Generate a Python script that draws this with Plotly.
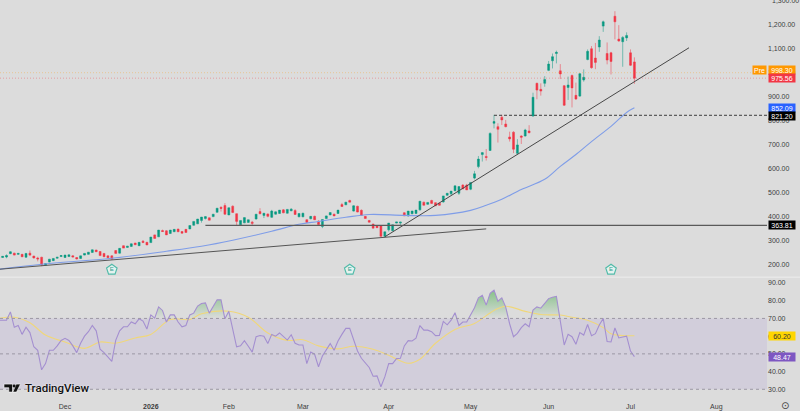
import pandas as pd
import plotly.graph_objects as go

W, H = 800, 411
PANE_RIGHT = 767

# Trading calendar of the symbol
holidays = ["2025-11-27", "2025-12-25", "2026-01-01", "2026-01-19", "2026-02-16",
            "2026-04-03", "2026-05-25", "2026-06-19", "2026-07-03"]
sessions = [d.strftime("%Y-%m-%d") for d in pd.bdate_range("2025-11-05", "2026-08-31")
            if d.strftime("%Y-%m-%d") not in holidays]

opens = [230,230,232,246,248,243,243,231,248,236,
         228,231,197,211,217,227,234,230,234,237,
         230,226,240,243,251,261,255,247,237,237,
         259,248,279,272,276,290,279,298,293,292,
         324,316,342,341,330,337,348,338,347,349,
         364,370,384,392,395,400,418,439,446,407,
         443,412,366,374,376,377,390,421,405,411,
         397,410,413,428,414,424,425,399,399,387,
         391,401,381,359,392,407,410,413,450,449,
         467,423,443,426,401,384,369,362,362,318,
         345,341,373,373,416,403,412,413,428,460,
         451,467,458,456,461,489,495,508,497,531,
         531,514,560,608,658,650,675,788,774,813,
         785,731,751,663,735,735,756,818,954,929,
         954,1008,1048,1078,1006,944,937,987,904,901,
         968,1053,1098,1059,1105,1192,1078,1081,1233,1138,
         1127,1143,1081,1043]
highs = [234,236,243,256,250,248,245,248,259,237,
         233,233,206,224,227,232,239,241,242,239,
         232,237,247,253,263,262,256,248,238,238,
         260,268,280,278,288,291,293,302,295,315,
         325,344,346,343,344,347,350,339,348,363,
         380,390,398,401,396,410,435,442,456,437,
         447,413,384,396,387,382,410,435,414,413,
         428,421,427,431,431,435,431,413,416,389,
         402,404,385,388,404,417,412,427,457,461,
         470,447,445,430,402,386,370,363,363,337,
         373,366,378,378,418,423,424,427,464,462,
         459,470,459,457,486,497,506,528,525,535,
         536,542,590,652,666,681,750,823,788,823,
         802,753,755,722,738,765,780,915,957,954,
         984,1047,1078,1090,1034,947,982,990,957,997,
         1012,1095,1109,1122,1150,1215,1124,1085,1254,1196,
         1150,1166,1095,1062]
lows = [228,228,227,244,239,241,232,230,236,226,
        214,194,195,210,216,226,233,229,233,231,
        222,225,239,242,250,253,238,233,229,223,
        247,247,269,271,275,283,278,292,282,291,
        309,315,338,324,329,336,337,331,334,348,
        363,369,375,388,385,398,417,421,408,406,
        416,365,362,373,375,365,388,410,394,397,
        395,409,412,414,413,423,408,398,398,376,
        389,386,365,352,391,406,402,412,441,448,
        460,421,418,404,392,376,352,353,317,316,
        338,340,372,365,403,400,410,412,425,447,
        450,454,445,446,458,486,490,505,490,515,
        511,510,555,601,629,633,674,767,708,781,
        771,712,664,657,702,733,746,815,888,903,
        940,1005,1016,1037,972,860,885,854,885,898,
        961,1050,1015,1013,1085,1168,1033,991,1137,1127,
        1023,1130,1026,952]
closes = [232,235,238,254,240,247,233,247,240,228,
          224,199,205,223,226,231,238,240,241,232,
          224,237,247,252,262,254,238,233,229,223,
          247,268,269,277,287,283,293,292,282,315,
          309,344,338,324,344,347,337,331,334,363,
          380,390,398,400,385,410,435,434,410,437,
          417,380,384,396,387,372,410,412,414,401,
          423,420,427,416,430,431,409,413,414,376,
          401,387,367,388,403,417,403,427,442,460,
          460,445,419,405,392,377,352,354,318,337,
          373,366,378,377,403,423,423,427,464,447,
          459,455,445,447,486,497,506,528,525,515,
          511,542,578,639,666,646,746,795,763,802,
          774,723,680,698,730,760,749,896,926,922,
          970,1034,1065,1083,993,863,947,935,889,994,
          979,1087,1019,1041,1134,1210,1051,1045,1210,1130,
          1145,1153,1029,975.56]

# Moving average of price, sampled at these session numbers
ma_sessions = [0,11,29,43,52,60,70,77,82,89,95,104,112,121,125,129,134,140,144,148,152,157,161,163]
ma_values = [181,202,227,256,277,302,339,368,380,397,409,405,405,426,447,472,513,555,609,658,712,775,833,852.09]

# Hand-drawn support lines: (session, price) anchors
support_long_sessions = [0, 125]
support_long_prices = [181, 349]
support_steep_sessions = [99, 177]
support_steep_prices = [316, 1102]

level_low = 363.81
level_low_start = 53
level_high = 821.20
level_high_start = 127
last_close = 975.56
pre_market = 998.30
ma_last = 852.09
earnings_sessions = [29, 90, 157]
earnings_y = 179

rsi = [69,69,69,73.7,65,66,61,65,62,54,
       52,41,44.5,52,52,54.5,57.6,58.8,57.6,54.5,
       50.7,56,60,62.5,66,63,52.6,50.7,48.3,45.8,
       57.6,63,65.3,65.3,68,67,69.8,68.5,64,72,
       70.2,76.5,74.5,68,72,72,68,65.3,66,72,
       73,77,78.4,78.8,73,76.4,80.5,80.5,69.8,74,
       64.8,54,54.6,57.5,54.3,51,59.7,60.4,60,55.8,
       61,60,61.8,59.5,57.8,60.8,56,55,55,44.5,
       51,49.8,42.7,48.8,52,55.8,52,57.3,61,64.4,
       64.4,58,51.6,47.5,45,42.3,37.4,37.6,31.4,37,
       44.5,44.5,47.3,47.5,54.5,57.5,57.3,58.8,66,63.4,
       63.4,62.5,60.3,60.4,68.3,66.4,69,73.2,66,68,
       68,71.7,76,81.6,83,77.5,84.2,86,79.7,81.6,
       76.4,67,59.7,61.6,64.8,67,65.3,74.7,76.5,75.8,
       78.8,81.2,82,82.5,68.5,55,61,59.7,55.4,62,
       60.6,66.6,60.3,61.4,66.3,70,57,56.7,64.6,59,
       59.5,60,51.6,48.47]

rsi_ma_sessions = [0,4,8,12,17,22,26,30,35,39,44,49,52,59,64,69,
                   74,78,82,87,91,96,100,105,108,112,117,122,127,130,135,
                   139,144,147,151,155,157,163]
rsi_ma_values = [70,70.7,67.6,60.6,56.7,53.1,56.7,56,59,61,69.4,69.4,72.6,74.1,70.7,61.8,
                 57.6,58,54.5,52.8,54.3,52.6,49.2,44.7,47,56,63.8,67.2,74.5,76.9,74,
                 72.2,71.9,70.7,69,64.8,61.4,60.2]

price_ticks = list(range(200, 1300, 100))
top_price_label = "1,300.00"
rsi_ticks = [30, 40, 50, 60, 70, 80, 90]
month_sessions = [17, 39, 59, 78, 100, 121, 141, 162, 184]
month_labels = ["Dec", "<b>2026</b>", "Feb", "Mar", "Apr", "May", "Jun", "Jul", "Aug"]

BG = "#DCDCDC"
UP = "#089981"
DOWN = "#F23645"
TEXT = "#3d3d3d"
FONT = "Liberation Sans"


def at(indices):
    return [sessions[i] for i in indices]


n = len(closes)
x_bars = sessions[:n]
fig = go.Figure()

fig.add_trace(go.Candlestick(
    x=x_bars, open=opens, high=highs, low=lows, close=closes, whiskerwidth=0,
    increasing=dict(fillcolor=UP, line=dict(color="rgba(8,153,129,0.5)", width=1)),
    decreasing=dict(fillcolor=DOWN, line=dict(color="rgba(242,54,69,0.5)", width=1)),
    xaxis="x", yaxis="y", hoverinfo="skip"))


def line(x, y, color, width=1.0, dash="solid", xa="x", ya="y", shape="linear"):
    fig.add_trace(go.Scatter(x=x, y=y, mode="lines", xaxis=xa, yaxis=ya, hoverinfo="skip",
                             line=dict(color=color, width=width, dash=dash, shape=shape)))


line(at(ma_sessions), ma_values, "#7F9DE8", 1.1, shape="spline")
line(at(support_long_sessions), support_long_prices, "#555555", 1.0)
line(at(support_steep_sessions), support_steep_prices, "#484848", 1.0)
line(at([level_low_start, 197]), [level_low, level_low], "#5a5a5a", 1.2)
line(at([level_high_start, 197]), [level_high, level_high], "#3c3c3c", 1.0, "3px,2px")

# Earnings badges under the price series
fig.add_trace(go.Scatter(
    x=at(earnings_sessions), y=[earnings_y] * len(earnings_sessions), mode="markers+text",
    text=["E"] * len(earnings_sessions), textposition="middle center",
    textfont=dict(family=FONT, size=6, color="#2f9f8c"),
    marker=dict(symbol="pentagon", size=11, color="#E4F2EF", line=dict(color="#52BBA9", width=1.2)),
    xaxis="x", yaxis="y", hoverinfo="skip"))

# RSI pane: band, overbought gradient, oscillator and its average
fig.add_trace(go.Scatter(x=x_bars, y=[70] * n, mode="lines", line=dict(width=0), xaxis="x2", yaxis="y2",
                         hoverinfo="skip"))
fig.add_trace(go.Scatter(
    x=x_bars, y=[max(v, 70) for v in rsi], mode="lines", line=dict(width=0), fill="tonexty",
    fillgradient=dict(type="vertical", start=70, stop=86,
                      colorscale=[[0, "rgba(76,175,80,0)"], [1, "rgba(76,175,80,0.6)"]]),
    xaxis="x2", yaxis="y2", hoverinfo="skip"))
line(at(rsi_ma_sessions), rsi_ma_values, "#F0D77A", 1.1, xa="x2", ya="y2", shape="spline")
line(x_bars, rsi, "#A48FD0", 1.1, xa="x2", ya="y2")

x_right = PANE_RIGHT / W
shapes = [
    dict(type="rect", xref="paper", yref="y2", x0=0, x1=x_right, y0=30, y1=70, layer="below",
         fillcolor="#D2CEDB", line=dict(width=0)),
    dict(type="line", xref="paper", yref="paper", x0=0, x1=1, y0=1 - 278.5 / H, y1=1 - 278.5 / H,
         line=dict(color="#EDEDED", width=1)),
]
for level in (30, 50, 70):
    shapes.append(dict(type="line", xref="paper", yref="y2", x0=0, x1=x_right, y0=level, y1=level,
                       line=dict(color="#9c98a4", width=1, dash="3px,3px")))
for value, color in ((pre_market, "rgba(255,152,0,0.32)"), (last_close, "rgba(242,54,69,0.38)")):
    shapes.append(dict(type="line", xref="paper", yref="y", x0=0, x1=x_right, y0=value, y1=value,
                       line=dict(color=color, width=1, dash="1px,2px")))


def logo_path(points):
    return "M" + " L".join(f"{px / W:.5f},{1 - py / H:.5f}" for px, py in points) + " Z"


# TradingView mark
shapes += [
    dict(type="path", xref="paper", yref="paper", fillcolor="#111", line=dict(color="white", width=0.6),
         path=logo_path([(4, 386), (12.5, 386), (12.5, 394), (8.8, 394), (8.8, 389.6), (4, 389.6)])),
    dict(type="path", xref="paper", yref="paper", fillcolor="#111", line=dict(color="white", width=0.6),
         path=logo_path([(16.2, 386), (20.5, 386), (16.5, 394), (12.8, 394)])),
    dict(type="circle", xref="paper", yref="paper", fillcolor="#111", line=dict(width=0),
         x0=12.6 / W, x1=15.6 / W, y0=1 - 389.5 / H, y1=1 - 386.5 / H),
]

annotations = []
tick_font = dict(family=FONT, size=7, color=TEXT)


def axis_tag(value, ya, bg, text=None, fg="white", shift=0):
    annotations.append(dict(
        xref="paper", yref=ya, x=768 / W, y=value, xanchor="left", yanchor="middle", yshift=shift,
        text=text or f"{value:,.2f}", showarrow=False, bgcolor=bg, width=26, height=8.4, borderpad=0,
        align="center", font=dict(family=FONT, size=7, color=fg)))


axis_tag(pre_market, "y", "#FF9800", shift=3)
axis_tag(last_close, "y", "#F23645")
axis_tag(ma_last, "y", "#2962FF")
axis_tag(level_high, "y", "#000000", shift=-1)
axis_tag(level_low, "y", "#000000")
axis_tag(60.20, "y2", "#FFD600", fg="#333333")
axis_tag(rsi[-1], "y2", "#7E57C2")
annotations.append(dict(xref="paper", yref="y", x=767 / W, y=pre_market, xanchor="right", yanchor="middle",
                        yshift=3, text="Pre", showarrow=False, bgcolor="#FF9800", width=13, height=8.4,
                        borderpad=0, font=dict(family=FONT, size=7, color="white")))
# The top price label sits on the pane's upper edge
annotations.append(dict(xref="paper", yref="paper", x=770 / W, y=1 - 0.5 / H, xanchor="left", yanchor="middle",
                        text=top_price_label, showarrow=False, font=tick_font))
annotations.append(dict(xref="paper", yref="paper", x=23 / W, y=1 - 390 / H, xanchor="left", yanchor="middle",
                        text="TradingView", showarrow=False,
                        font=dict(family="Roboto", size=11.5, color="#111", weight=500, shadow="0 0 2px white")))
annotations.append(dict(xref="paper", yref="paper", x=784.5 / W, y=1 - 407.5 / H, xanchor="center",
                        yanchor="middle", text="⊙", showarrow=False,
                        font=dict(family="DejaVu Sans", size=10, color="#444")))

x_range = [0.33, 0.33 + PANE_RIGHT / 3.9]
common_x = dict(type="category", categoryorder="array", categoryarray=sessions, range=x_range,
                domain=[0, x_right], showgrid=False, zeroline=False, showline=False, ticks="",
                tickmode="array")

fig.update_layout(
    width=W, height=H, autosize=False, margin=dict(l=0, r=0, t=0, b=0),
    paper_bgcolor=BG, plot_bgcolor=BG, showlegend=False, hovermode=False,
    xaxis=dict(**common_x, anchor="y", tickvals=[], rangeslider=dict(visible=False)),
    xaxis2=dict(**common_x, anchor="y2", matches="x", tickvals=at(month_sessions), ticktext=month_labels,
                tickfont=tick_font, ticklabelstandoff=7),
    yaxis=dict(domain=[1 - 278 / H, 1], range=[150.4, 1300.5], side="right", anchor="x", tickmode="array",
               tickvals=price_ticks, tickformat=",.2f", tickfont=tick_font, showgrid=False, zeroline=False,
               ticks="", showline=False),
    yaxis2=dict(domain=[1 - 396 / H, 1 - 280 / H], range=[27.3, 92.47], side="right", anchor="x2",
                tickmode="array", tickvals=rsi_ticks, tickformat=".2f", tickfont=tick_font, showgrid=False,
                zeroline=False, ticks="", showline=False),
    shapes=shapes, annotations=annotations,
)

fig.write_html("out.html", config=dict(displayModeBar=False))
